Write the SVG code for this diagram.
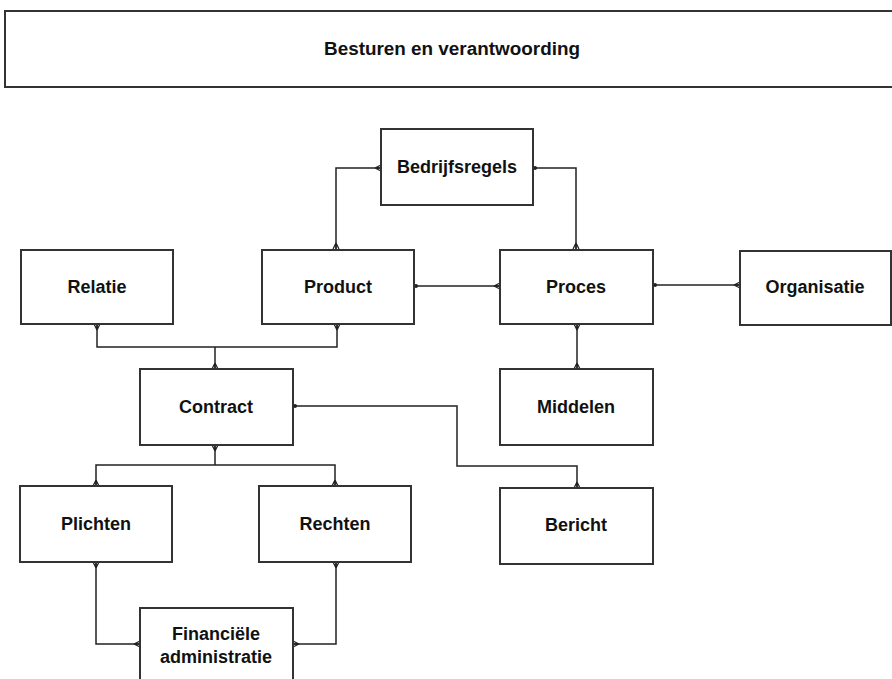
<svg xmlns="http://www.w3.org/2000/svg" width="892" height="679" viewBox="0 0 892 679">
<style>
.box{fill:#fff;stroke:#333;stroke-width:2}
.lbl{font-family:"Liberation Sans",Arial,sans-serif;font-weight:bold;font-size:18px;fill:#111;text-anchor:middle}
.c{fill:none;stroke:#222;stroke-width:1.5}
.cf{marker-start:url(#crowS);marker-end:url(#crow)}
</style>
<defs>
<marker id="crow" markerUnits="userSpaceOnUse" viewBox="-8 -5 9 10" refX="0" refY="0" markerWidth="9" markerHeight="10" orient="auto">
<path d="M-6,0 L0,-3 M-6,0 L0,0 M-6,0 L0,3" fill="none" stroke="#222" stroke-width="1.3"/>
</marker>
<marker id="crowS" markerUnits="userSpaceOnUse" viewBox="-8 -5 9 10" refX="0" refY="0" markerWidth="9" markerHeight="10" orient="auto-start-reverse">
<path d="M-6,0 L0,-3 M-6,0 L0,0 M-6,0 L0,3" fill="none" stroke="#222" stroke-width="1.3"/>
</marker>
<marker id="dotS" markerUnits="userSpaceOnUse" viewBox="-5 -4 6 8" refX="0" refY="0" markerWidth="6" markerHeight="8" orient="auto-start-reverse">
<circle cx="-2" cy="0" r="2" fill="#222"/>
</marker>
</defs>
<g id="title">
<rect class="box" x="5" y="11" width="895" height="76"/>
<text class="lbl" x="452" y="55" textLength="256" lengthAdjust="spacingAndGlyphs">Besturen en verantwoording</text>
</g>
<g id="connectors">
<path class="c cf" d="M381,168 H336 V249"/>
<path class="c" d="M533,168 H576 V249" marker-start="url(#dotS)" marker-end="url(#crow)"/>
<path class="c cf" d="M97,324 V347 H337 V324"/>
<path class="c" d="M215,347 V369" marker-end="url(#crow)"/>
<path class="c" d="M414,286 H500" marker-start="url(#dotS)" marker-end="url(#crow)"/>
<path class="c" d="M653,285 H740" marker-start="url(#dotS)" marker-end="url(#crow)"/>
<path class="c cf" d="M577,324 V369"/>
<path class="c" d="M293,406 H457 V466 H577 V488" marker-start="url(#dotS)" marker-end="url(#crow)"/>
<path class="c" d="M215,445 V465" marker-start="url(#crowS)"/>
<path class="c cf" d="M96,486 V465 H335 V486"/>
<path class="c cf" d="M96,562 V644 H140"/>
<path class="c cf" d="M336,562 V644 H293"/>
</g>
<g id="bedrijfsregels"><rect class="box" x="381" y="129" width="152" height="76"/><text class="lbl" x="457" y="173">Bedrijfsregels</text></g>
<g id="relatie"><rect class="box" x="21" y="250" width="152" height="74"/><text class="lbl" x="97" y="293">Relatie</text></g>
<g id="product"><rect class="box" x="262" y="250" width="152" height="74"/><text class="lbl" x="338" y="293">Product</text></g>
<g id="proces"><rect class="box" x="500" y="250" width="153" height="74"/><text class="lbl" x="576" y="293">Proces</text></g>
<g id="organisatie"><rect class="box" x="740" y="251" width="151" height="74"/><text class="lbl" x="815" y="293">Organisatie</text></g>
<g id="contract"><rect class="box" x="140" y="369" width="153" height="76"/><text class="lbl" x="216" y="413">Contract</text></g>
<g id="middelen"><rect class="box" x="500" y="369" width="153" height="76"/><text class="lbl" x="576" y="413">Middelen</text></g>
<g id="plichten"><rect class="box" x="20" y="486" width="152" height="76"/><text class="lbl" x="96" y="530">Plichten</text></g>
<g id="rechten"><rect class="box" x="259" y="486" width="152" height="76"/><text class="lbl" x="335" y="530">Rechten</text></g>
<g id="bericht"><rect class="box" x="500" y="488" width="153" height="76"/><text class="lbl" x="576" y="531">Bericht</text></g>
<g id="financiele"><rect class="box" x="140" y="608" width="153" height="80"/><text class="lbl" x="216" y="640">Financiële</text><text class="lbl" x="216" y="663">administratie</text></g>
</svg>
